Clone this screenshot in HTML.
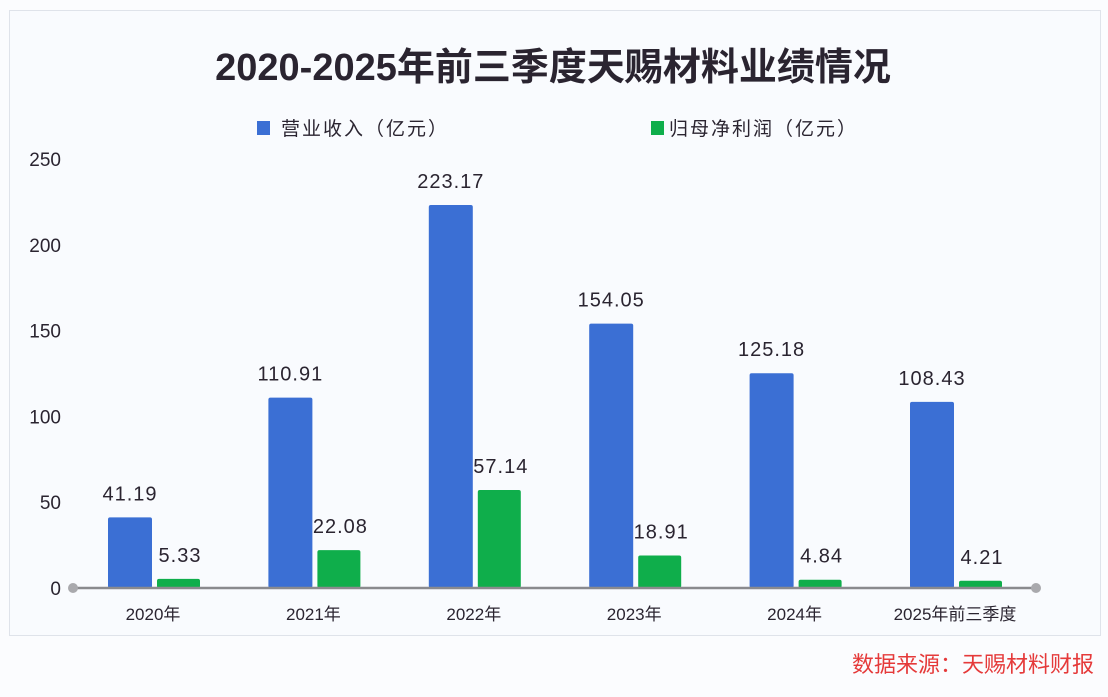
<!DOCTYPE html>
<html><head><meta charset="utf-8"><style>
html,body{margin:0;padding:0;background:#fbfcfe;}
body{width:1108px;height:692px;overflow:hidden;position:relative;font-family:"Liberation Sans","Noto Sans CJK SC",sans-serif;}
</style></head><body>
<svg width="1108" height="692" xmlns="http://www.w3.org/2000/svg">
<rect x="9.5" y="10.5" width="1091" height="625" fill="#f9fbfe" stroke="#dfe3ea"/>
<text x="553" y="80" text-anchor="middle" font-size="38" font-weight="bold" fill="#2a2430" font-family="Liberation Sans,Noto Sans CJK SC,sans-serif">2020-2025年前三季度天赐材料业绩情况</text>
<g>
<rect x="257" y="121" width="13" height="14" fill="#3b6fd4"/>
<text x="281" y="135" font-size="19" letter-spacing="2" fill="#2a2430" font-family="Liberation Sans,Noto Sans CJK SC,sans-serif">营业收入（亿元）</text>
<rect x="651" y="121" width="13" height="14" fill="#0fae4b"/>
<text x="669" y="135" font-size="19" letter-spacing="2" fill="#2a2430" font-family="Liberation Sans,Noto Sans CJK SC,sans-serif">归母净利润（亿元）</text>
</g>
<g id="plot"></g>
<text x="1094" y="672" text-anchor="end" font-size="22" fill="#e53a3a" font-family="Liberation Sans,Noto Sans CJK SC,sans-serif">数据来源：天赐材料财报</text>
</svg>
<script>
const categories=["2020年","2021年","2022年","2023年","2024年","2025年前三季度"];
const revenue=[41.19,110.91,223.17,154.05,125.18,108.43];
const profit=[5.33,22.08,57.14,18.91,4.84,4.21];
const yTicks=[0,50,100,150,200,250];
const NS="http://www.w3.org/2000/svg";
const g=document.getElementById('plot');
const y0=588, yTop=159, yMax=250;
const yS=v=>y0-(v/yMax)*(y0-yTop);
const xC=i=>153+i*160.4;
function el(t,a){const e=document.createElementNS(NS,t);for(const k in a)e.setAttribute(k,a[k]);g.appendChild(e);return e;}
const F="Liberation Sans,Noto Sans CJK SC,sans-serif";
yTicks.forEach(t=>{
  const e=el('text',{x:61,y:yS(t)+7,'text-anchor':'end','font-size':19,fill:'#2a2430','font-family':F});
  e.textContent=t;
  
  
});
categories.forEach((c,i)=>{
  const cx=xC(i);
  const b=el('rect',{x:cx-45,y:yS(revenue[i]),width:44,height:y0-yS(revenue[i]),fill:'#3b6fd4',rx:2});
  
  
  const p=el('rect',{x:cx+4,y:yS(profit[i]),width:43,height:y0-yS(profit[i]),fill:'#0fae4b',rx:2});
  
  
  const t1=el('text',{x:cx-23,y:yS(revenue[i])-17,'text-anchor':'middle','font-size':20,'letter-spacing':1,fill:'#2a2430','font-family':F});
  t1.textContent=revenue[i].toFixed(2);
  
  
  const t2=el('text',{x:cx+27,y:yS(profit[i])-17,'text-anchor':'middle','font-size':20,'letter-spacing':1,fill:'#2a2430','font-family':F});
  t2.textContent=profit[i].toFixed(2);
  
  
  const xl=el('text',{x:cx,y:620,'text-anchor':'middle','font-size':17,fill:'#2a2430','font-family':F});
  xl.textContent=c;
  
  
});
const ax=el('line',{x1:73,y1:y0,x2:1036,y2:y0,stroke:'#8a8a8e','stroke-width':2.5});


[73,1036].forEach((x,k)=>{
  const c=el('circle',{cx:x,cy:y0,r:5,fill:'#a9a9ad'});
  
  
});
</script>
</body></html>
